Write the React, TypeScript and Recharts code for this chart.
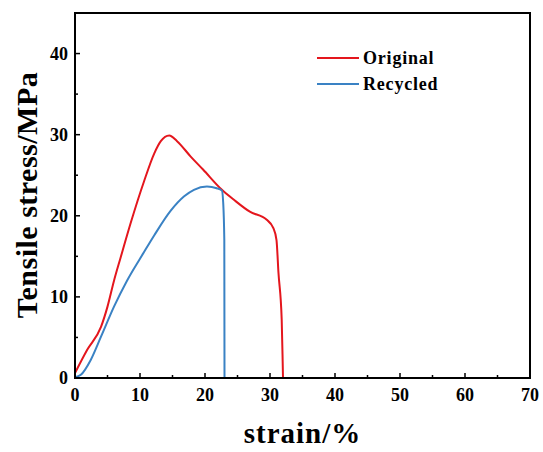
import React from "react"
import { LineChart, Line, XAxis, YAxis, ReferenceArea } from "recharts"

// strain (%) vs tensile stress (MPa)
const originalStrain = [0, 1.9, 4, 5, 6, 7, 8.6, 10.6, 12.2, 13.2, 14.5, 15.7, 17.8, 19.7, 22.6, 24.4, 26.9, 29.5, 30.5, 31, 31.3, 31.8, 31.95, 32]
const originalStress = [0.6, 3.5, 6.3, 8.8, 12.0, 14.8, 19.2, 24.2, 27.7, 29.2, 29.9, 29.2, 27.3, 25.7, 23.2, 22, 20.5, 19.5, 18.5, 17, 13, 7.2, 2, 0]

const recycledStrain = [0, 0.9, 2.4, 4, 6, 8, 10.6, 12.2, 14.7, 16.8, 18.3, 20.3, 21.8, 22.6, 22.8, 22.97, 23]
const recycledStress = [0.1, 0.4, 2.2, 5.1, 8.8, 12.0, 15.5, 17.6, 20.6, 22.4, 23.2, 23.6, 23.4, 23.1, 21.6, 17, 0]

const xTicks = [0, 5, 10, 15, 20, 25, 30, 35, 40, 45, 50, 55, 60, 65, 70]
const yTicks = [0, 5, 10, 15, 20, 25, 30, 35, 40]

const RED = "#e4161d"
const BLUE = "#3a82c4"
const FONT = "'Liberation Serif', 'Times New Roman', serif"

const original = originalStrain.map((x, i) => ({ x, y: originalStress[i] }))
const recycled = recycledStrain.map((x, i) => ({ x, y: recycledStress[i] }))

const XTick = (props: any) => {
  const { x, y, payload } = props
  const major = payload.value % 10 === 0
  return (
    <g>
      <line x1={x} x2={x} y1={y} y2={y - (major ? 5 : 3)} stroke="#000" strokeWidth={1.5} />
      {major && (
        <text x={x} y={y + 23} textAnchor="middle" fontFamily={FONT} fontWeight="bold" fontSize={18} fill="#000">
          {payload.value}
        </text>
      )}
    </g>
  )
}

const YTick = (props: any) => {
  const { x, y, payload } = props
  const major = payload.value % 10 === 0
  return (
    <g>
      <line x1={x} x2={x + (major ? 5 : 3)} y1={y} y2={y} stroke="#000" strokeWidth={1.5} />
      {major && (
        <text x={x - 7} y={y + 6} textAnchor="end" fontFamily={FONT} fontWeight="bold" fontSize={18} fill="#000">
          {payload.value}
        </text>
      )}
    </g>
  )
}

const series = [
  { name: "Original", color: RED },
  { name: "Recycled", color: BLUE },
]

export default function App() {
  return (
    <div style={{ position: "absolute", left: 0, top: 0, width: 543, height: 452, background: "#fff" }}>
      <LineChart width={543} height={452} margin={{ top: 13, right: 13, left: 0, bottom: 0 }}>
        <XAxis
          type="number"
          dataKey="x"
          domain={[0, 70]}
          ticks={xTicks}
          interval={0}
          height={74}
          tickSize={0}
          tickMargin={0}
          tickLine={false}
          axisLine={{ stroke: "#000", strokeWidth: 2 }}
          tick={<XTick />}
          allowDuplicatedCategory={false}
          label={{
            content: (p: any) => {
              const vb = p.viewBox
              return (
                <text x={vb.x + vb.width / 2} y={vb.y + 65} textAnchor="middle" fontFamily={FONT} fontWeight="bold" fontSize={29} letterSpacing={1}>
                  strain/%
                </text>
              )
            },
          }}
        />
        <YAxis
          type="number"
          dataKey="y"
          domain={[0, 45]}
          ticks={yTicks}
          interval={0}
          width={75}
          tickSize={0}
          tickMargin={0}
          tickLine={false}
          axisLine={{ stroke: "#000", strokeWidth: 2 }}
          tick={<YTick />}
          label={{
            content: () => {
              const cx = 37
              const cy = 195
              return (
                <text x={cx} y={cy} transform={`rotate(-90 ${cx} ${cy})`} textAnchor="middle" fontFamily={FONT} fontWeight="bold" fontSize={30} letterSpacing={0.5}>
                  Tensile stress/MPa
                </text>
              )
            },
          }}
        />
        <ReferenceArea x1={0} x2={70} y1={0} y2={45} fill="none" stroke="#000" strokeWidth={2} />
        <Line data={original} dataKey="y" name="Original" type="monotone" stroke={RED} strokeWidth={2} dot={false} isAnimationActive={false} />
        <Line data={recycled} dataKey="y" name="Recycled" type="monotone" stroke={BLUE} strokeWidth={2} dot={false} isAnimationActive={false} />
      </LineChart>
      <svg width={130} height={45} style={{ position: "absolute", left: 317, top: 53, overflow: "visible" }}>
        {series.map((s, i) => (
          <g key={s.name}>
            <line x1={0} x2={42} y1={5 + i * 26} y2={5 + i * 26} stroke={s.color} strokeWidth={2} />
            <text x={46} y={11 + i * 26} fontFamily={FONT} fontWeight="bold" fontSize={18} letterSpacing={0.8}>
              {s.name}
            </text>
          </g>
        ))}
      </svg>
    </div>
  )
}
